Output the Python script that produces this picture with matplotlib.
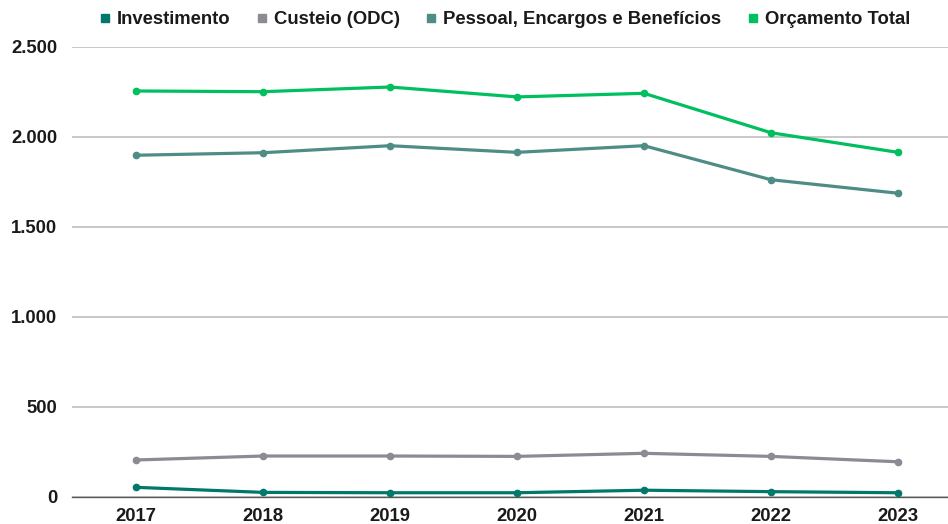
import matplotlib
matplotlib.use("Agg")
import matplotlib.pyplot as plt
from matplotlib.lines import Line2D
from matplotlib.ticker import FuncFormatter

plt.rcParams['font.family'] = ['Liberation Sans', 'DejaVu Sans']

years = ["2017", "2018", "2019", "2020", "2021", "2022", "2023"]
investimento = [52, 24, 22, 22, 36, 28, 22]
custeio = [204, 226, 226, 224, 241, 224, 194]
pessoal = [1897, 1911, 1950, 1913, 1950, 1761, 1686]
orcamento_total = [2254, 2250, 2276, 2221, 2241, 2022, 1913]

series = [
    ("Investimento", investimento, "#00786c"),
    ("Custeio (ODC)", custeio, "#8b8b93"),
    ("Pessoal, Encargos e Benefícios", pessoal, "#4e8d86"),
    ("Orçamento Total", orcamento_total, "#00bf5f"),
]

FS = 13.3

fig = plt.figure(figsize=(9.48, 5.24), dpi=100)
ax = fig.add_axes([72 / 948, 1 - 496.7 / 524, 876 / 948, 450 / 524])

x = list(range(len(years)))
handles = []
for name, vals, color in series:
    ax.plot(x, vals, color=color, linewidth=2.3, marker="o", markersize=4.5,
            solid_capstyle="round", zorder=3)
    handles.append(Line2D([], [], linestyle="none", marker="s", markersize=5.8,
                          color=color, label=name))

ax.set_xlim(-0.504, 6.394)
ax.set_ylim(0, 2500)
ax.set_yticks([0, 500, 1000, 1500, 2000, 2500])
ax.yaxis.set_major_formatter(FuncFormatter(lambda v, p: f"{int(v):,}".replace(",", ".")))
ax.set_xticks(x)
ax.set_xticklabels(years)

ax.grid(axis="y", color="#bfbfbf", linewidth=1.2, zorder=0)
ax.set_axisbelow(True)
for s in ["top", "right", "left"]:
    ax.spines[s].set_visible(False)
ax.spines["bottom"].set_color("#595959")
ax.spines["bottom"].set_linewidth(1.0)
ax.tick_params(axis="both", length=0, labelsize=FS)
ax.tick_params(axis="y", pad=10.8)
ax.tick_params(axis="x", pad=8)
for lbl in ax.get_xticklabels() + ax.get_yticklabels():
    lbl.set_fontweight("bold")
    lbl.set_color("#1a1a1a")

leg = fig.legend(handles=handles, loc="center", bbox_to_anchor=(505 / 948, 1 - 20 / 524),
                 ncol=4, frameon=False, handletextpad=0.4, columnspacing=1.45,
                 handlelength=0.5, borderpad=0, borderaxespad=0,
                 prop={"weight": "bold", "size": FS})
for t in leg.get_texts():
    t.set_color("#1a1a1a")

fig.savefig("out.png", dpi=100, facecolor="white")
